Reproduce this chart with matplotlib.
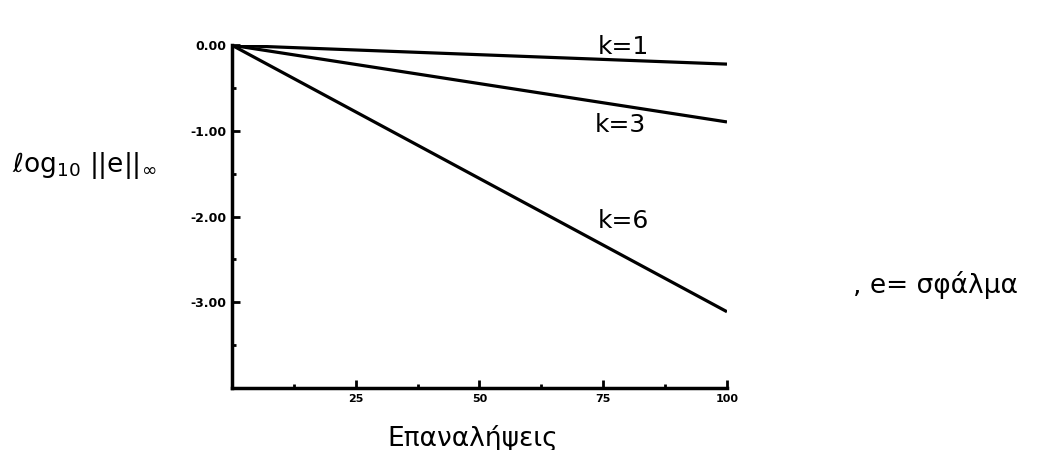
import matplotlib
matplotlib.use("Agg")
import matplotlib.pyplot as plt
import numpy as np

# Data
iterations = [0, 100]
k_labels = ["k=1", "k=3", "k=6"]
log_err_k1 = [0.0, -0.22]
log_err_k3 = [0.0, -0.895]
log_err_k6 = [0.0, -3.11]
series = [log_err_k1, log_err_k3, log_err_k6]
label_pos = [(79, -0.02), (78.5, -0.93), (79, -2.05)]  # data coords of handwritten labels

x_ticks = [25, 50, 75, 100]
x_ticklabels = ["25", "50", "75", "100"]
x_minor = [12.5, 37.5, 62.5, 87.5]
y_ticks = [0, -1, -2, -3]
y_ticklabels = ["0.00", "-1.00", "-2.00", "-3.00"]
y_minor = [-0.5, -1.5, -2.5, -3.5]

plt.rcParams['font.family'] = ['DejaVu Sans']

fig = plt.figure(figsize=(10.39, 4.5), dpi=100)
ax = fig.add_axes([0.2233, 0.1378, 0.4764, 0.7616])

for ys in series:
    ax.plot(iterations, ys, color="black", lw=2.3, solid_capstyle="butt")

for lab, (lx, ly) in zip(k_labels, label_pos):
    ax.text(lx, ly, lab, fontsize=18, ha="center", va="center", color="black")

ax.set_xlim(0, 100)
ax.set_ylim(-4, 0)
for s in ["top", "right"]:
    ax.spines[s].set_visible(False)
for s in ["left", "bottom"]:
    ax.spines[s].set_linewidth(2.5)

ax.set_xticks(x_ticks)
ax.set_xticklabels(x_ticklabels, fontsize=8, fontweight="bold", family="DejaVu Sans Condensed")
ax.set_xticks(x_minor, minor=True)
ax.set_yticks(y_ticks)
ax.set_yticklabels(y_ticklabels, fontsize=9, fontweight="bold", family="DejaVu Sans Condensed")
ax.set_yticks(y_minor, minor=True)
ax.tick_params(axis="both", which="major", direction="in", length=6, width=2, pad=4)
ax.tick_params(axis="both", which="minor", direction="in", length=3, width=2)

fig.text(473 / 1039, 1 - 438 / 450, "Επαναλήψεις", fontsize=19, ha="center", va="center")
fig.text(0.012, 1 - 166 / 450, r"$\ell$og$_{10}$ ||e||$_\infty$", fontsize=19, ha="left", va="center")
fig.text(853 / 1039, 1 - 285 / 450, ", e= σφάλμα", fontsize=19, ha="left", va="center")

fig.savefig("out.png", dpi=100)
